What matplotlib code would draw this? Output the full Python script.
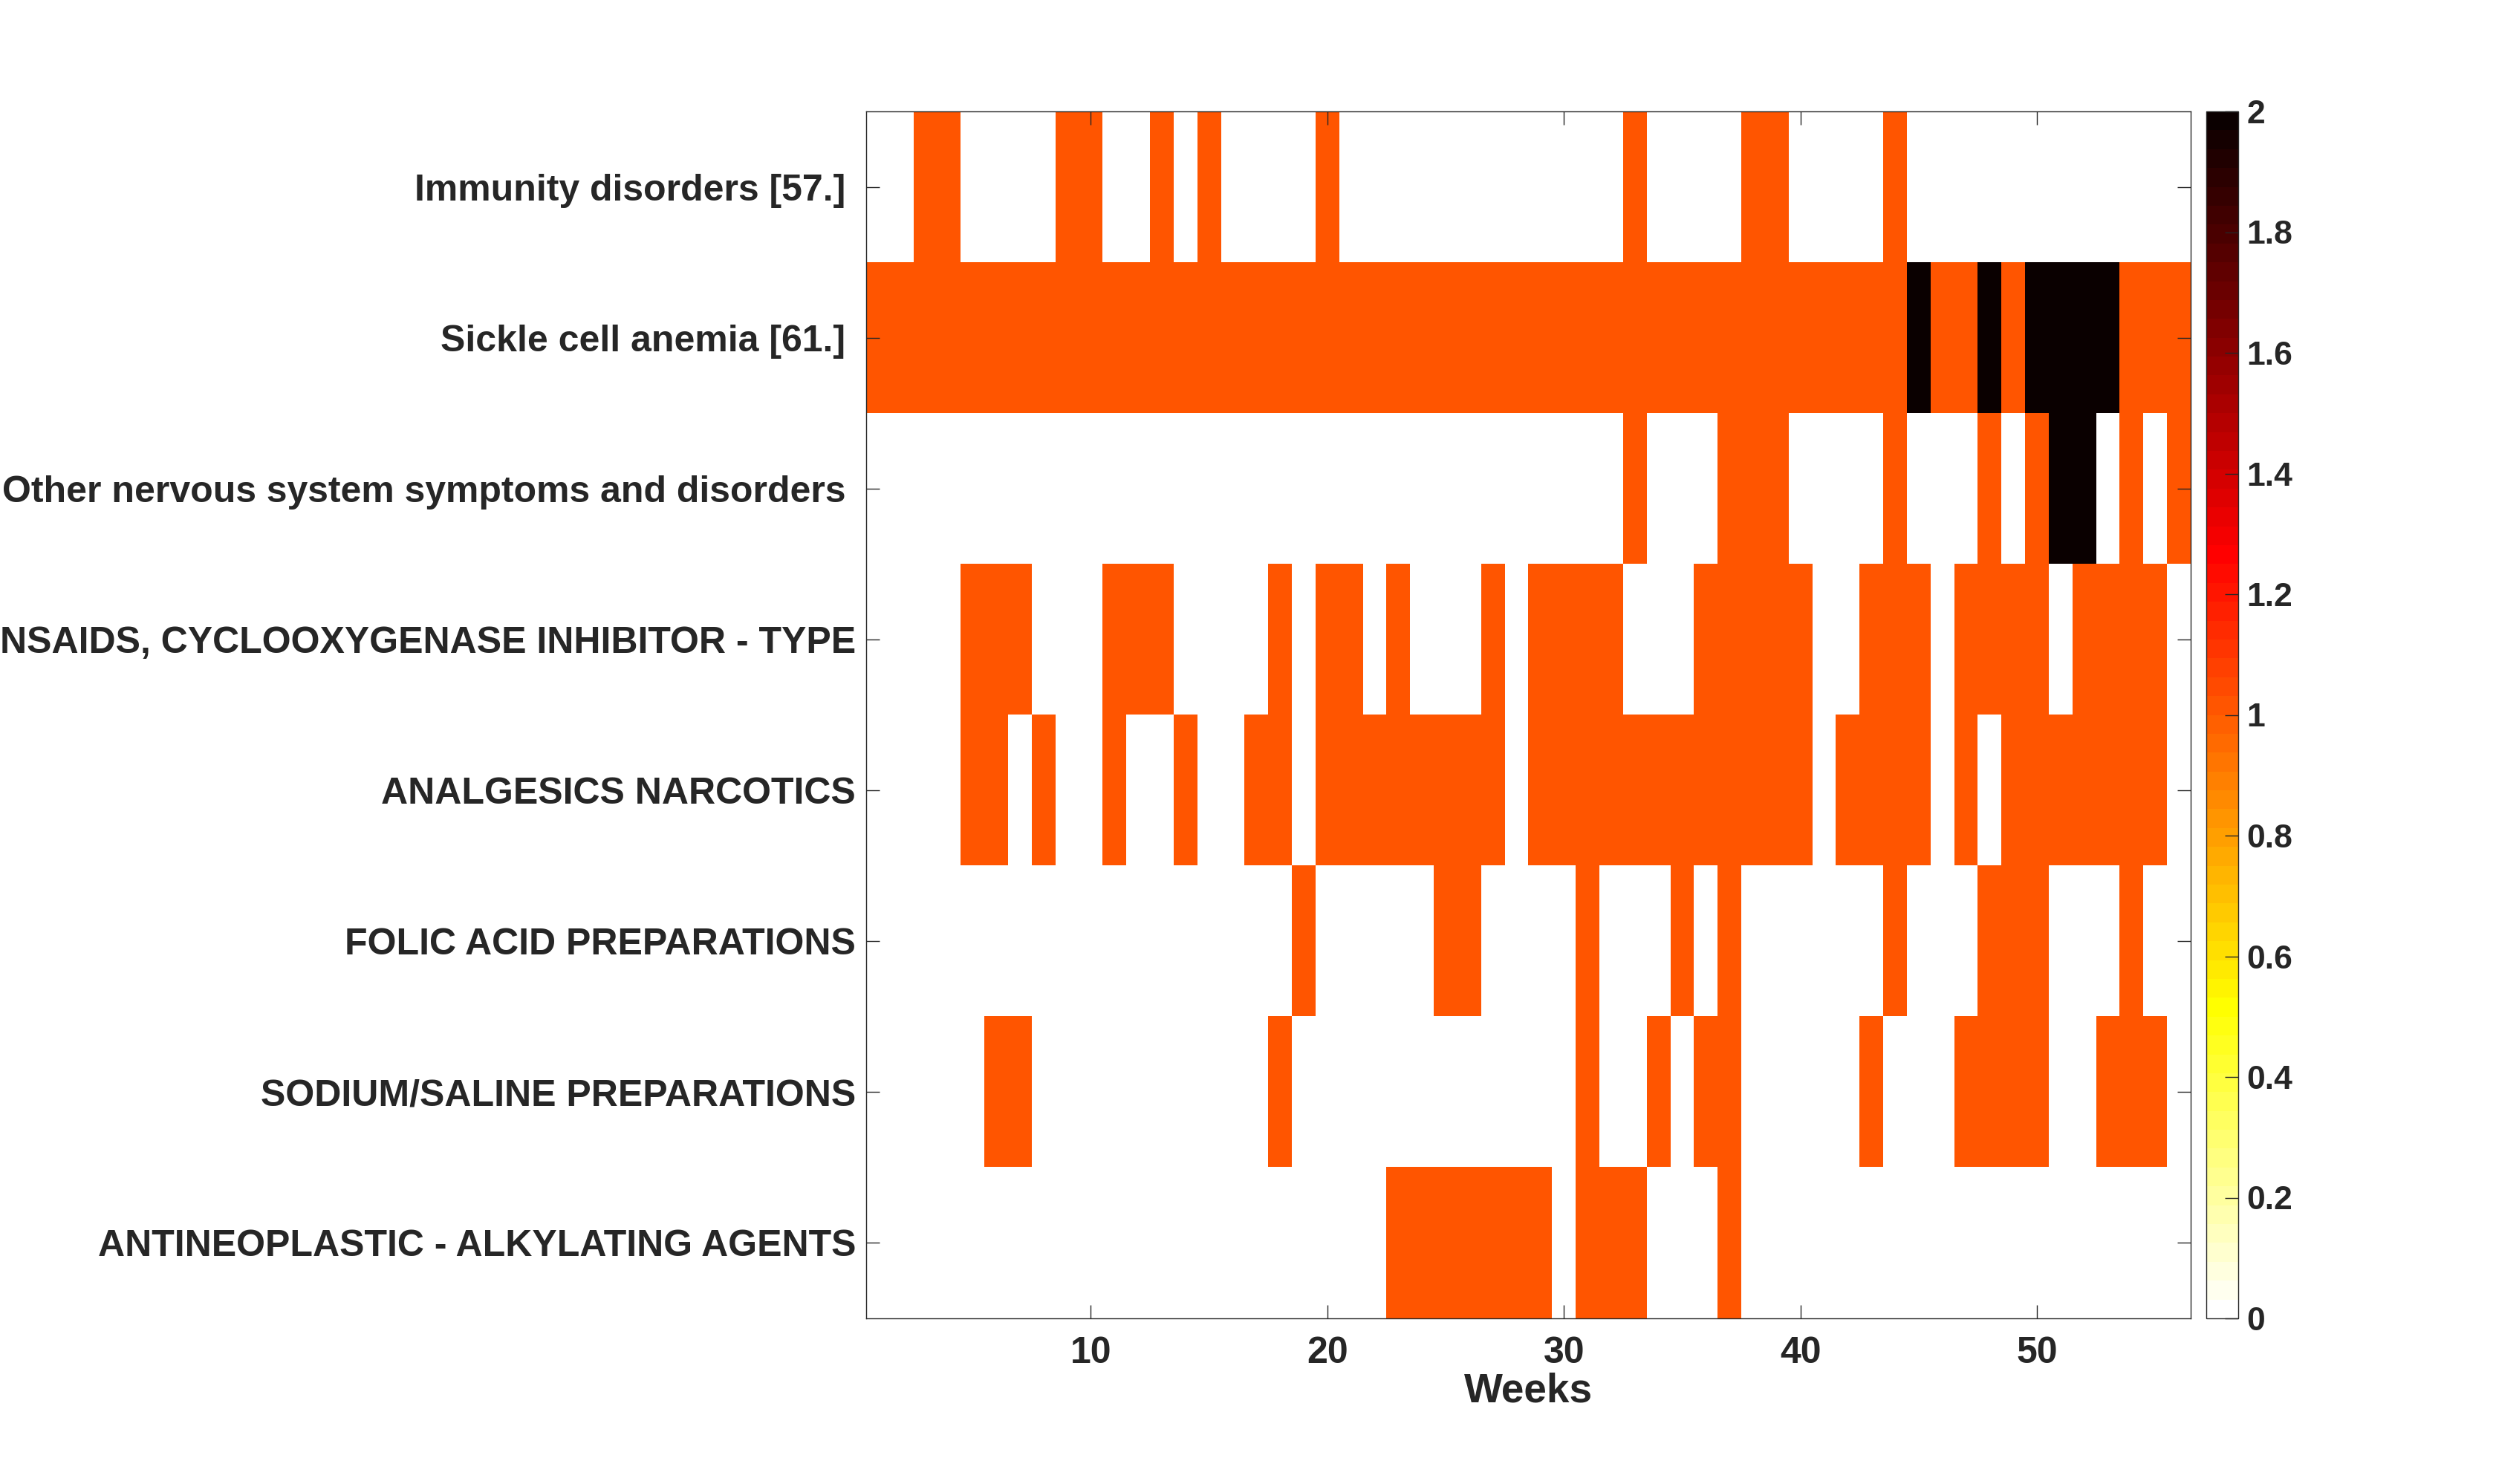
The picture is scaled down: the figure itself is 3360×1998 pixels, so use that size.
import numpy as np
import matplotlib
matplotlib.use("Agg")
import matplotlib.pyplot as plt
from matplotlib.colors import ListedColormap

# ---------------- data ----------------
row_labels = [
    "Immunity disorders [57.] ",
    "Sickle cell anemia [61.] ",
    "Other nervous system symptoms and disorders ",
    "NSAIDS, CYCLOOXYGENASE INHIBITOR - TYPE",
    "ANALGESICS NARCOTICS",
    "FOLIC ACID PREPARATIONS",
    "SODIUM/SALINE PREPARATIONS",
    "ANTINEOPLASTIC - ALKYLATING AGENTS",
]

immunity = [0,0,1,1,0,0,0,0,1,1, 0,0,1,0,1,0,0,0,0,1, 0,0,0,0,0,0,0,0,0,0,
            0,0,1,0,0,0,0,1,1,0, 0,0,0,1,0,0,0,0,0,0, 0,0,0,0,0,0]
sickle = [1,1,1,1,1,1,1,1,1,1, 1,1,1,1,1,1,1,1,1,1, 1,1,1,1,1,1,1,1,1,1,
          1,1,1,1,1,1,1,1,1,1, 1,1,1,1,2,1,1,2,1,2, 2,2,2,1,1,1]
nervous = [0,0,0,0,0,0,0,0,0,0, 0,0,0,0,0,0,0,0,0,0, 0,0,0,0,0,0,0,0,0,0,
           0,0,1,0,0,0,1,1,1,0, 0,0,0,1,0,0,0,1,0,1, 2,2,0,1,0,1]
nsaids = [0,0,0,0,1,1,1,0,0,0, 1,1,1,0,0,0,0,1,0,1, 1,0,1,0,0,0,1,0,1,1,
          1,1,0,0,0,1,1,1,1,1, 0,0,1,1,1,0,1,1,1,1, 0,1,1,1,1,0]
analgesics = [0,0,0,0,1,1,0,1,0,0, 1,0,0,1,0,0,1,1,0,1, 1,1,1,1,1,1,1,0,1,1,
              1,1,1,1,1,1,1,1,1,1, 0,1,1,1,1,0,1,0,1,1, 1,1,1,1,1,0]
folic = [0,0,0,0,0,0,0,0,0,0, 0,0,0,0,0,0,0,0,1,0, 0,0,0,0,1,1,0,0,0,0,
         1,0,0,0,1,0,1,0,0,0, 0,0,0,1,0,0,0,1,1,1, 0,0,0,1,0,0]
sodium = [0,0,0,0,0,1,1,0,0,0, 0,0,0,0,0,0,0,1,0,0, 0,0,0,0,0,0,0,0,0,0,
          1,0,0,1,0,1,1,0,0,0, 0,0,1,0,0,0,1,1,1,1, 0,0,1,1,1,0]
antineoplastic = [0,0,0,0,0,0,0,0,0,0, 0,0,0,0,0,0,0,0,0,0, 0,0,1,1,1,1,1,1,1,0,
                  1,1,1,0,0,0,1,0,0,0, 0,0,0,0,0,0,0,0,0,0, 0,0,0,0,0,0]

x_ticks = [10, 20, 30, 40, 50]
x_ticklabels = ["10", "20", "30", "40", "50"]
cbar_ticks = [0, 0.2, 0.4, 0.6, 0.8, 1, 1.2, 1.4, 1.6, 1.8, 2]
cbar_ticklabels = ["0", "0.2", "0.4", "0.6", "0.8", "1", "1.2", "1.4", "1.6", "1.8", "2"]
x_label = "Weeks"

# ---------------- style ----------------
plt.rcParams['font.family'] = ['Liberation Sans', 'DejaVu Sans']
plt.rcParams['font.weight'] = 'bold'
txt = '#262626'

# MATLAB-like hot(64), reversed
n = 64
n1 = int(3 * n / 8)
r = np.concatenate([np.arange(1, n1 + 1) / n1, np.ones(n - n1)])
g = np.concatenate([np.zeros(n1), np.arange(1, n1 + 1) / n1, np.ones(n - 2 * n1)])
b = np.concatenate([np.zeros(2 * n1), np.arange(1, n - 2 * n1 + 1) / (n - 2 * n1)])
hot = np.stack([r, g, b], axis=1)
cmap = ListedColormap(hot[::-1])

data = np.array([immunity, sickle, nervous, nsaids, analgesics, folic, sodium, antineoplastic], dtype=float)
nrows, ncols = data.shape

W, H = 3360, 1998
fig = plt.figure(figsize=(16.8, 9.99), dpi=200)
ax_l, ax_r, ax_t, ax_b = 1166, 2949, 150, 1775
ax = fig.add_axes([ax_l / W, 1 - ax_b / H, (ax_r - ax_l) / W, (ax_b - ax_t) / H])
im = ax.imshow(data, cmap=cmap, vmin=0, vmax=2, aspect='auto', interpolation='nearest',
               extent=(0.5, ncols + 0.5, nrows + 0.5, 0.5))

ax.set_xticks(x_ticks)
ax.set_xticklabels(x_ticklabels)
ax.set_yticks(np.arange(1, nrows + 1))
ax.set_yticklabels(row_labels)
ax.tick_params(axis='both', direction='in', length=6.5, width=0.5, colors=txt,
               labelsize=18, top=True, right=True)
ax.tick_params(axis='x', pad=8.5)
ax.tick_params(axis='y', pad=5)
for lab in ax.get_xticklabels() + ax.get_yticklabels():
    lab.set_fontweight('bold')
    lab.set_color(txt)
for sp in ax.spines.values():
    sp.set_linewidth(0.5)
    sp.set_color(txt)
ax.set_xlabel(x_label, fontsize=19.8, fontweight='bold', color=txt, labelpad=1)

cax = fig.add_axes([2970 / W, 1 - ax_b / H, 43 / W, (ax_b - ax_t) / H])
cb = fig.colorbar(im, cax=cax)
cb.set_ticks(cbar_ticks)
cb.set_ticklabels(cbar_ticklabels)
cb.outline.set_linewidth(0.5)
cb.outline.set_edgecolor(txt)
cax.tick_params(direction='in', length=6.5, width=0.5, colors=txt, labelsize=16, pad=4)
for lab in cax.get_yticklabels():
    lab.set_fontweight('bold')

fig.savefig("out.png", dpi=200, facecolor='white')
